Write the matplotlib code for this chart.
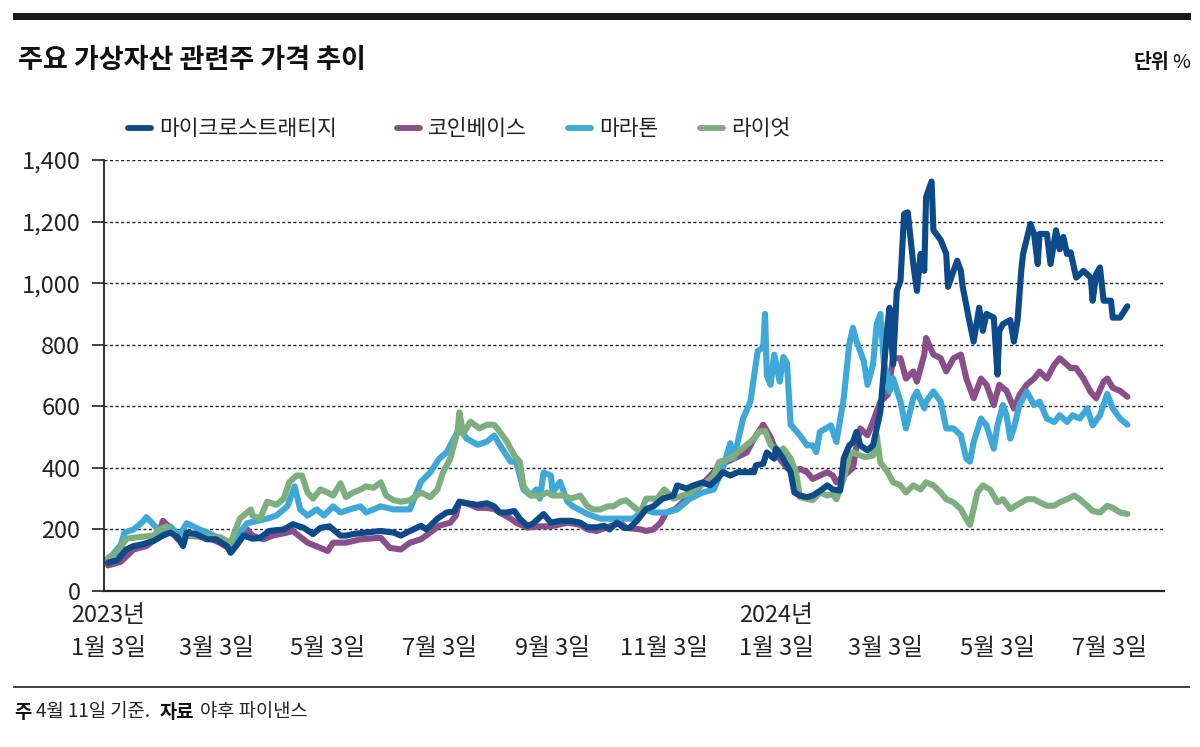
import matplotlib

matplotlib.use("Agg")
import matplotlib.pyplot as plt  # noqa: E402
from matplotlib.lines import Line2D  # noqa: E402
from matplotlib.patches import Rectangle  # noqa: E402
from matplotlib.ticker import FuncFormatter  # noqa: E402
import pandas as pd  # noqa: E402

plt.rcParams["font.family"] = ["Noto Sans CJK KR", "DejaVu Sans"]

START = pd.Timestamp("2023-01-03")

# days since 2023-01-03, values in %
mstr_days = [0, 5, 10, 14, 19, 25, 30, 34, 38, 41, 43, 48, 54, 59, 65, 67, 70, 74, 79, 83, 88, 96,
             101, 107, 112, 116, 121, 127, 130, 134, 141, 149, 156, 160, 165, 171, 174, 180, 185,
             189, 192, 196, 202, 207, 211, 214, 218, 222, 225, 229, 232, 238, 242, 247, 253, 258,
             262, 267, 271, 274, 278, 282, 285, 289, 294, 298, 303, 309, 311, 316, 320, 325, 329,
             333, 336, 340, 344, 347, 353, 354, 358, 360, 364, 365, 369, 373, 375, 378, 382, 385,
             389, 393, 396, 400, 402, 405, 407, 409, 411, 415, 418, 422, 426, 427, 429, 431, 433,
             435, 437, 440, 442, 444, 446, 447, 450, 451, 455, 458, 459, 462, 464, 466, 467, 471,
             473, 476, 478, 480, 484, 486, 487, 489, 493, 495, 497, 499, 500, 504, 506, 508, 509,
             513, 515, 518, 520, 522, 524, 526, 529, 533, 537, 538, 540, 542, 544, 548, 549, 553, 557]
mstr_vals = [92, 100, 135, 146, 152, 163, 180, 190, 175, 146, 190, 185, 168, 168, 146, 124, 146, 180,
             170, 172, 195, 200, 217, 205, 185, 205, 210, 180, 180, 185, 190, 195, 190, 180, 195, 212,
             200, 235, 255, 258, 290, 285, 280, 285, 275, 255, 255, 260, 235, 212, 218, 250, 222, 228,
             228, 222, 207, 207, 212, 200, 222, 205, 205, 228, 266, 275, 300, 310, 343, 333, 343, 353,
             343, 365, 386, 375, 386, 386, 386, 408, 413, 450, 430, 463, 430, 386, 320, 310, 305, 310,
             325, 343, 330, 326, 430, 473, 483, 517, 473, 457, 473, 582, 867, 920, 736, 975, 1007,
             1225, 1230, 1062, 975, 1095, 1040, 1280, 1330, 1172, 1140, 1095, 988, 1040, 1073, 1040,
             988, 867, 810, 920, 845, 900, 888, 703, 845, 867, 880, 810, 880, 1040, 1095, 1192, 1160,
             1062, 1160, 1160, 1062, 1172, 1110, 1150, 1095, 1100, 1018, 1040, 1018, 943, 1030, 1051,
             943, 943, 888, 888, 925]

coin_days = [0, 7, 14, 21, 27, 30, 34, 38, 43, 54, 61, 67, 72, 76, 79, 85, 90, 98, 101, 109, 116, 120,
             123, 130, 138, 149, 154, 160, 165, 171, 176, 181, 187, 190, 192, 196, 202, 207, 211, 214,
             220, 223, 229, 236, 242, 251, 258, 262, 267, 272, 280, 283, 291, 294, 298, 302, 305, 310,
             316, 324, 331, 334, 342, 349, 353, 358, 362, 364, 367, 371, 375, 378, 382, 385, 389, 393,
             396, 398, 407, 409, 411, 415, 418, 422, 426, 429, 433, 436, 440, 442, 446, 447, 451, 455,
             458, 462, 466, 469, 473, 477, 480, 484, 487, 491, 495, 498, 502, 506, 509, 513, 517, 520,
             524, 526, 529, 533, 537, 540, 544, 546, 549, 553, 557]
coin_vals = [83, 95, 135, 146, 173, 228, 206, 168, 180, 175, 157, 135, 180, 200, 180, 168, 180, 190, 195,
             157, 140, 130, 157, 157, 168, 173, 140, 135, 157, 168, 190, 212, 222, 244, 290, 285, 270,
             270, 266, 255, 235, 222, 206, 210, 210, 222, 215, 200, 195, 205, 222, 205, 200, 195, 200,
             222, 255, 266, 300, 343, 386, 408, 430, 450, 495, 540, 500, 470, 430, 400, 386, 397, 386,
             364, 375, 386, 375, 353, 400, 470, 528, 506, 550, 615, 637, 756, 756, 690, 713, 680, 768,
             822, 768, 756, 713, 756, 768, 690, 626, 690, 670, 604, 670, 650, 593, 636, 670, 690, 713,
             690, 735, 756, 735, 724, 724, 690, 646, 626, 680, 690, 660, 650, 631]

mara_days = [0, 7, 9, 14, 19, 21, 25, 27, 30, 32, 34, 39, 43, 50, 56, 61, 67, 72, 76, 87, 92, 98, 102,
             105, 109, 114, 118, 123, 127, 132, 138, 141, 149, 156, 160, 165, 171, 176, 181, 185, 189,
             192, 196, 202, 207, 211, 214, 220, 223, 227, 231, 234, 236, 238, 242, 243, 247, 251, 254,
             262, 269, 276, 283, 287, 293, 298, 305, 311, 318, 325, 331, 336, 340, 342, 347, 351, 355,
             358, 359, 360, 362, 364, 367, 369, 371, 373, 376, 378, 382, 385, 387, 389, 395, 398, 402,
             405, 407, 409, 413, 415, 418, 420, 422, 424, 426, 427, 429, 433, 436, 440, 442, 446, 447,
             451, 455, 458, 462, 466, 469, 471, 473, 477, 480, 484, 486, 489, 491, 493, 495, 498, 502,
             506, 509, 513, 517, 520, 524, 527, 531, 535, 538, 542, 546, 549, 553, 557]
mara_vals = [100, 150, 190, 200, 225, 240, 215, 200, 185, 200, 210, 180, 220, 200, 185, 170, 150, 190,
             220, 235, 245, 275, 340, 265, 245, 265, 245, 275, 255, 265, 275, 255, 275, 265, 265, 265,
             355, 385, 430, 450, 495, 528, 495, 475, 485, 505, 475, 420, 420, 330, 310, 330, 300, 385,
             375, 320, 355, 290, 275, 250, 235, 235, 235, 235, 265, 255, 255, 265, 300, 320, 330, 400,
             480, 430, 560, 615, 780, 790, 900, 700, 670, 768, 680, 760, 740, 540, 520, 506, 473, 473,
             451, 517, 538, 484, 626, 800, 855, 811, 746, 670, 735, 866, 900, 736, 700, 648, 691, 615,
             528, 626, 648, 593, 615, 648, 615, 528, 528, 506, 430, 420, 484, 560, 538, 462, 538, 604,
             570, 495, 530, 604, 648, 604, 615, 560, 549, 571, 549, 571, 560, 593, 538, 571, 640, 593,
             560, 540]

riot_days = [0, 5, 10, 17, 25, 28, 32, 36, 39, 43, 50, 54, 61, 67, 72, 78, 79, 83, 87, 92, 96, 99,
             103, 106, 109, 112, 116, 120, 123, 127, 130, 134, 138, 141, 145, 149, 152, 156, 160, 165,
             171, 176, 180, 183, 187, 191, 192, 194, 198, 203, 207, 211, 214, 218, 222, 225, 227, 231,
             236, 240, 243, 249, 253, 258, 262, 265, 269, 273, 276, 280, 283, 287, 291, 294, 300, 304,
             309, 314, 318, 324, 327, 331, 334, 340, 344, 349, 353, 356, 359, 362, 366, 369, 373, 376,
             378, 385, 389, 393, 396, 398, 402, 405, 407, 411, 414, 418, 420, 422, 426, 429, 433, 436,
             440, 444, 447, 451, 455, 458, 462, 466, 469, 471, 475, 478, 482, 486, 489, 493, 496, 502,
             506, 509, 513, 517, 520, 524, 528, 531, 535, 538, 542, 546, 549, 553, 557]
riot_vals = [108, 125, 170, 175, 180, 200, 210, 185, 170, 180, 180, 175, 175, 157, 235, 265, 245, 235,
             290, 280, 300, 353, 375, 375, 320, 300, 330, 320, 310, 350, 305, 320, 330, 340, 335, 353,
             310, 295, 290, 295, 320, 305, 330, 385, 430, 518, 580, 510, 550, 528, 540, 540, 518, 485,
             440, 420, 340, 310, 310, 320, 310, 310, 300, 310, 275, 265, 265, 275, 275, 290, 295, 275,
             255, 300, 300, 330, 300, 310, 320, 343, 353, 375, 420, 430, 450, 475, 495, 518, 520, 475,
             450, 463, 430, 385, 305, 295, 320, 310, 315, 298, 364, 440, 451, 440, 435, 440, 506, 418,
             386, 353, 343, 320, 343, 330, 353, 343, 320, 298, 288, 266, 233, 215, 320, 343, 330, 288,
             298, 266, 277, 298, 298, 288, 277, 277, 288, 298, 310, 298, 277, 260, 255, 277, 270, 255,
             250]

series = [
    ("코인베이스", coin_days, coin_vals, "#8a4f8b"),
    ("마라톤", mara_days, mara_vals, "#3ea9d8"),
    ("라이엇", riot_days, riot_vals, "#7dae7d"),
    ("마이크로스트래티지", mstr_days, mstr_vals, "#0c4a8a"),
]
legend_order = ["마이크로스트래티지", "코인베이스", "마라톤", "라이엇"]

tick_dates = ["2023-01-03", "2023-03-03", "2023-05-03", "2023-07-03", "2023-09-03",
              "2023-11-03", "2024-01-03", "2024-03-03", "2024-05-03", "2024-07-03"]
tick_labels = ["1월 3일", "3월 3일", "5월 3일", "7월 3일", "9월 3일",
               "11월 3일", "1월 3일", "3월 3일", "5월 3일", "7월 3일"]
year_labels = {"2023-01-03": "2023년", "2024-01-03": "2024년"}

W, H = 1200, 747
fig = plt.figure(figsize=(W / 100, H / 100), dpi=100)
ax = fig.add_axes([104 / W, 1 - 591 / H, 1060 / W, 431 / H])

for name, days, vals, color in series:
    x = START + pd.to_timedelta(days, unit="D")
    ax.plot(x, vals, color=color, lw=4.4, solid_joinstyle="round", solid_capstyle="round",
            zorder=3)

ax.set_ylim(0, 1400)
ax.set_xlim(START - pd.Timedelta(days=2.2), START + pd.Timedelta(days=577))
ax.set_yticks(range(0, 1401, 200))
ax.yaxis.set_major_formatter(FuncFormatter(lambda v, _: f"{int(v):,}"))
ax.tick_params(axis="y", length=9, width=1.2, pad=8, labelsize=17, colors="#222222")
ax.set_xticks([])
for yv in range(200, 1401, 200):
    ax.axhline(yv, color="#222222", lw=1.0, ls=(0, (2.2, 1.8)), zorder=1)

for side in ("top", "right"):
    ax.spines[side].set_visible(False)
ax.spines["left"].set_linewidth(1.3)
ax.spines["left"].set_color("#222222")
ax.spines["bottom"].set_linewidth(1.6)
ax.spines["bottom"].set_color("#222222")

tr = ax.get_xaxis_transform()
for d, lab in zip(tick_dates, tick_labels):
    xd = pd.Timestamp(d)
    ax.text(xd, -0.133, lab, transform=tr, ha="center", va="center", fontsize=17,
            color="#222222", clip_on=False)
    if d in year_labels:
        ax.text(xd, -0.058, year_labels[d], transform=tr, ha="center", va="center",
                fontsize=17, color="#222222", clip_on=False)

# header
fig.add_artist(Rectangle((13 / W, 1 - 20 / H), 1178 / W, 7 / H, transform=fig.transFigure,
                         color="#1a1a1a", lw=0))
fig.text(18 / W, 1 - 60 / H, "주요 가상자산 관련주 가격 추이", fontsize=19.5, fontweight="bold",
         ha="left", va="center", color="#111111")
fig.text(1190 / W, 1 - 62 / H, "%", fontsize=14, ha="right", va="center", color="#111111")
fig.text(1169 / W, 1 - 62 / H, "단위", fontsize=14, fontweight="bold", ha="right", va="center",
         color="#111111")

# legend
leg_pos = {"마이크로스트래티지": 128, "코인베이스": 397, "마라톤": 568, "라이엇": 700}
colors = {name: color for name, _, _, color in series}
for name in legend_order:
    x0 = leg_pos[name]
    fig.add_artist(Line2D([x0 / W, (x0 + 23) / W], [1 - 128 / H] * 2, transform=fig.transFigure,
                          color=colors[name], lw=4.2, solid_capstyle="round"))
    fig.text((x0 + 31) / W, 1 - 129 / H, name, fontsize=15.5, ha="left", va="center",
             color="#222222")

# footer
fig.add_artist(Line2D([14 / W, 1189 / W], [1 - 687 / H] * 2, transform=fig.transFigure,
                      color="#333333", lw=1.3))
fig.text(14 / W, 1 - 712 / H, "주", fontsize=13.5, fontweight="bold", ha="left", va="center",
         color="#111111")
fig.text(36 / W, 1 - 712 / H, "4월 11일 기준.", fontsize=13.5, ha="left", va="center",
         color="#222222")
fig.text(160 / W, 1 - 712 / H, "자료", fontsize=13.5, fontweight="bold", ha="left", va="center",
         color="#111111")
fig.text(200 / W, 1 - 712 / H, "야후 파이낸스", fontsize=13.5, ha="left", va="center",
         color="#222222")

fig.savefig("out.png", dpi=100)
plt.close(fig)
